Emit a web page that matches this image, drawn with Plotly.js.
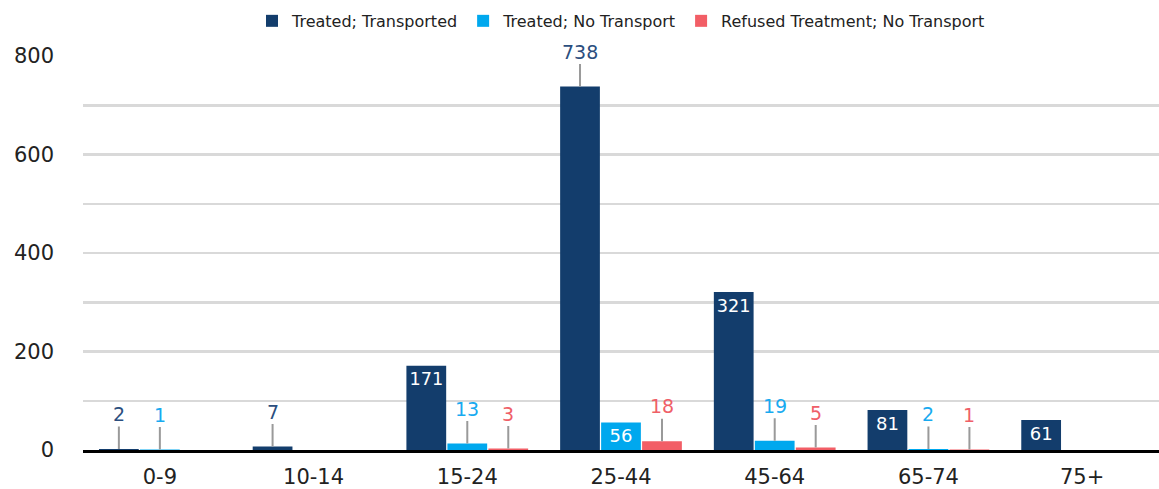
<!DOCTYPE html>
<html>
<head>
<meta charset="utf-8">
<script src="https://cdn.plot.ly/plotly-3.0.1.min.js"></script>
<style>
  html, body { margin: 0; padding: 0; background: #fff; }
  #chart { width: 1159px; height: 489px; }
</style>
</head>
<body>
<div id="chart"></div>
<script>
// ---- Data ----
const categories = ['0-9', '10-14', '15-24', '25-44', '45-64', '65-74', '75+'];
const seriesNames = ['Treated; Transported', 'Treated; No Transport', 'Refused Treatment; No Transport'];
const transported = [2, 7, 171, 738, 321, 81, 61];
const noTransport = [1, null, 13, 56, 19, 2, null];
const refused = [null, null, 3, 18, 5, 1, null];
const yTickValues = [0, 200, 400, 600, 800];

// ---- Styles ----
const FONT = '"DejaVu Sans", "Open Sans", sans-serif';
const barColors = ['#133D6C', '#00A8EE', '#F25E66'];
const labelColors = ['#2B4E7E', '#18AAF0', '#EF5F68'];
const W = 1159, H = 489;
const margin = { l: 83, r: 0, t: 56, b: 39 };
const bargap = 0.2, bargroupgap = 0.03;

const seriesValues = [transported, noTransport, refused];

// label rule: inside (white) for mid-size bars, leader-line label otherwise
function isInside(v) { return v != null && v >= 50 && v < 700; }

const traces = seriesValues.map((vals, s) => ({
  type: 'bar',
  name: seriesNames[s],
  x: categories,
  y: vals,
  marker: { color: barColors[s] },
  text: vals.map(v => isInside(v) ? String(v) : ''),
  texttemplate: '%{text}',
  textposition: 'inside',
  insidetextanchor: 'end',
  textangle: 0,
  insidetextfont: { color: '#ffffff', size: 18, family: FONT },
  hoverinfo: 'x+y+name'
}));

// pixel offset of each bar within its group
const plotW = W - margin.l - margin.r;
const catW = plotW / categories.length;
const slot = catW * (1 - bargap) / seriesValues.length;

const annotations = [];
seriesValues.forEach((vals, s) => {
  vals.forEach((v, i) => {
    if (v == null || isInside(v)) return;
    annotations.push({
      x: categories[i], y: v, xref: 'x', yref: 'y',
      xshift: (s - (seriesValues.length - 1) / 2) * slot,
      text: String(v),
      showarrow: true, arrowhead: 0, arrowwidth: 2, arrowcolor: '#9a9a9a',
      ax: 0, ay: -35, standoff: 0,
      font: { family: FONT, size: 19, color: labelColors[s] }
    });
  });
});

const layout = {
  width: W, height: H,
  margin: margin,
  paper_bgcolor: '#ffffff', plot_bgcolor: '#ffffff',
  font: { family: FONT, color: '#222222' },
  barmode: 'group',
  bargap: bargap, bargroupgap: bargroupgap,
  showlegend: true,
  legend: {
    orientation: 'h', x: 0.5, xanchor: 'center', y: 1.089, yanchor: 'middle',
    font: { family: FONT, size: 16, color: '#222222' },
    itemwidth: 30,
    traceorder: 'normal'
  },
  xaxis: {
    type: 'category',
    showline: true, linecolor: '#000000', linewidth: 3,
    showgrid: false, ticks: '', ticklabelstandoff: 6,
    tickfont: { family: FONT, size: 21, color: '#222222' },
    fixedrange: true
  },
  yaxis: {
    range: [0, 800],
    tickvals: yTickValues,
    ticktext: yTickValues.map(String),
    showgrid: true, gridcolor: '#d9d9d9', gridwidth: 2.5,
    minor: { dtick: 100, tick0: 0, showgrid: true, gridcolor: '#d9d9d9', gridwidth: 2.5 },
    zeroline: false, showline: false, ticks: '',
    ticklabelstandoff: 28,
    tickfont: { family: FONT, size: 21, color: '#222222' },
    fixedrange: true
  },
  annotations: annotations
};

Plotly.newPlot('chart', traces, layout, { displayModeBar: false, staticPlot: true });
</script>
</body>
</html>
